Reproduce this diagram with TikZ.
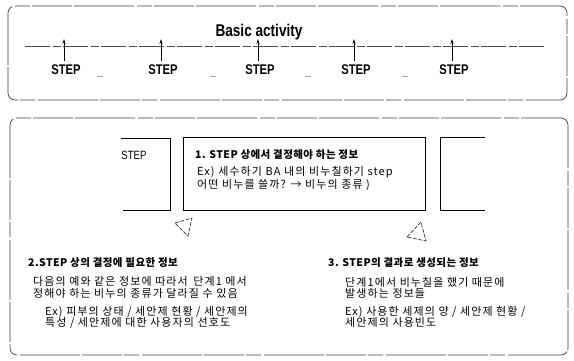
\documentclass[tikz,border=0pt]{standalone}
\usepackage{fontspec}
\setmainfont{Liberation Sans}
\newfontfamily\narrow[FakeStretch=0.8]{Liberation Sans}
\newfontfamily\kr[LetterSpace=10]{Noto Sans CJK KR}
\newfontfamily\krh[LetterSpace=4]{Noto Sans CJK KR}
\usetikzlibrary{arrows.meta}
\tikzset{
  frame/.style={draw=black!75, line width=0.7pt, rounded corners=7pt,
    dash pattern=on 40pt off 2pt on 15pt off 3pt on 60pt off 2pt},
  openbox/.style={draw=black, line width=0.8pt},
  stepbox/.style={draw=black, line width=0.8pt, minimum width=242pt, minimum height=73pt},
  steplbl/.style={font=\narrow\bfseries\fontsize{14}{14}\selectfont, inner sep=0pt},
  uparrow/.style={draw=black, line width=0.8pt, -{Stealth[length=5pt,width=3pt]}},
  baseline/.style={draw=black!70, line width=0.5pt, dash pattern=on 25pt off 3pt on 8pt off 2pt},
  gapmark/.style={draw=black!35, line width=0.4pt},
  head/.style={font=\krh\bfseries\fontsize{10.5}{12}\selectfont, anchor=west, inner sep=0pt},
  body/.style={font=\kr\fontsize{11}{11.5}\selectfont, anchor=west, inner sep=0pt, align=left},
  hollow/.style={draw=black!80, line width=0.7pt, dash pattern=on 4pt off 1.5pt}
}
\begin{document}
\begin{tikzpicture}[x=1pt,y=-1pt]
\useasboundingbox[fill=white] (0,0) rectangle (574,360);
% top frame
\node[frame, minimum width=559pt, minimum height=94pt] (top) at (287.5,53) {};
\node[font=\narrow\bfseries\fontsize{17}{17}\selectfont, inner sep=0pt] (title) at (259,32) {Basic activity};
\coordinate (la) at (25,46);
\coordinate (lb) at (545,46);
\draw[baseline] (la) -- (lb);
\foreach \x/\n in {64/1,161/2,258/3,354/4,452/5}{
  \coordinate (b\n) at (\x,61);
  \coordinate (t\n) at (\x,39);
  \draw[uparrow] (b\n) -- (t\n);
  \node[steplbl] (s\n) at (\x+2,70) {STEP};
}
\foreach \x in {100,213,308,405}{
  \coordinate (g1) at (\x-3,76);
  \coordinate (g2) at (\x+3,76);
  \draw[gapmark] (g1) -- (g2);
}
% bottom frame
\node[frame, minimum width=558pt, minimum height=237pt] (bot) at (289,236.5) {};
% left open box
\coordinate (l1) at (121,138);
\coordinate (l2) at (170,138);
\coordinate (l3) at (170,210);
\coordinate (l4) at (123,210);
\draw[openbox] (l1) -- (l2) -- (l3) -- (l4);
\node[font=\narrow\fontsize{12}{12}\selectfont, inner sep=0pt] (lstep) at (134,155) {STEP};
% middle box
\node[stepbox] (mid) at (304,173.5) {};
\node[head] (h1) at (195,155) {1. STEP 상에서 결정해야 하는 정보};
\node[body] (e1) at (197,178.5) {Ex) 세수하기 BA 내의 비누칠하기 step\\어떤 비누를 쓸까? → 비누의 종류 )};
% right open box
\coordinate (r1) at (485,137);
\coordinate (r2) at (440,137);
\coordinate (r3) at (440,210);
\coordinate (r4) at (485,210);
\draw[openbox] (r1) -- (r2) -- (r3) -- (r4);
% hollow arrow heads
\coordinate (ta) at (175,223);
\coordinate (tb) at (192,218);
\coordinate (tc) at (188,236);
\draw[hollow] (ta) -- (tb) -- (tc) -- cycle;
\coordinate (ua) at (407,237);
\coordinate (ub) at (421,222);
\coordinate (uc) at (426,241);
\draw[hollow] (ua) -- (ub) -- (uc) -- cycle;
% section 2
\node[head] (h2) at (28,263) {2.STEP 상의 결정에 필요한 정보};
\node[body] (p2) at (33,287.5) {다음의 예와 같은 정보에 따라서\enspace 단계1 에서\\정해야 하는 비누의 종류가 달라질 수 있음};
\node[body] (x2) at (45,317.5) {Ex) 피부의 상태 / 세안제 현황 / 세안제의\\특성 / 세안제에 대한 사용자의 선호도};
% section 3
\node[head] (h3) at (328,263) {3. STEP의 결과로 생성되는 정보};
\node[body] (p3) at (345,288) {단계1에서 비누칠을 했기 때문에\\발생하는 정보들};
\node[body] (x3) at (345,317) {Ex) 사용한 세제의 양 / 세안제 현황 /\\세안제의 사용빈도};
\end{tikzpicture}
\end{document}
